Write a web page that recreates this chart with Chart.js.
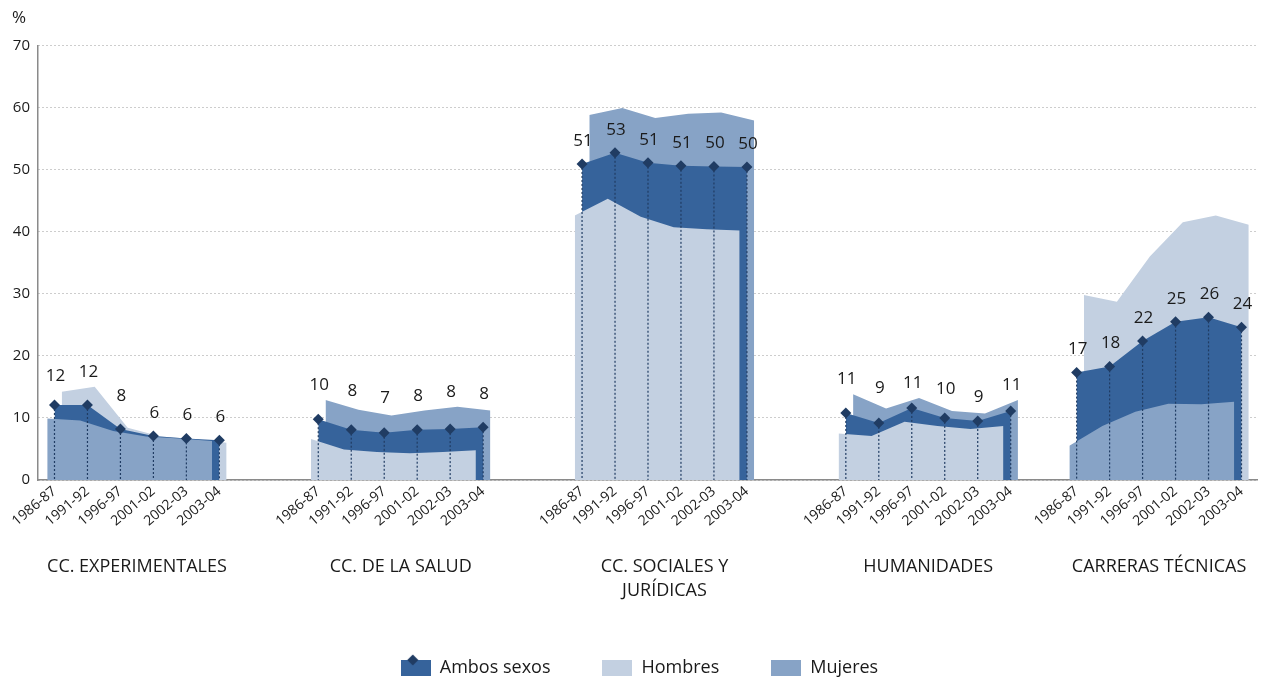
<!DOCTYPE html>
<html><head><meta charset="utf-8">
<script src="https://cdn.jsdelivr.net/npm/chart.js@4.4.1/dist/chart.umd.min.js"></script>
<style>html,body{margin:0;padding:0;background:#fff;}#wrap{width:1267px;height:679px;}</style>
</head><body><div id="wrap"><canvas id="c" width="1267" height="679" style="width:1267px;height:679px"></canvas></div>
<script>
// ---------------- DATA ----------------
const groups = ['CC. EXPERIMENTALES', 'CC. DE LA SALUD', ['CC. SOCIALES Y', 'JURÍDICAS'], 'HUMANIDADES', 'CARRERAS TÉCNICAS'];
const periods = ['1986-87', '1991-92', '1996-97', '2001-02', '2002-03', '2003-04'];
const ambos = [
  12.1, 12.1, 8.2, 7.1, 6.7, 6.4,
  9.8, 8.1, 7.6, 8.1, 8.2, 8.5,
  50.9, 52.7, 51.1, 50.6, 50.5, 50.4,
  10.8, 9.2, 11.6, 10.0, 9.5, 11.1,
  17.3, 18.3, 22.4, 25.5, 26.2, 24.6
];
const ambosLabels = [
  '12', '12', '8', '6', '6', '6',
  '10', '8', '7', '8', '8', '8',
  '51', '53', '51', '51', '50', '50',
  '11', '9', '11', '10', '9', '11',
  '17', '18', '22', '25', '26', '24'
];
const hombres = [
  14.2, 15.0, 8.4, 7.0, 6.6, 6.0,
  6.6, 4.9, 4.5, 4.3, 4.5, 4.8,
  42.6, 45.3, 42.4, 40.7, 40.4, 40.2,
  7.5, 7.1, 9.4, 8.7, 8.2, 8.7,
  29.8, 28.7, 36.0, 41.5, 42.6, 41.1
];
const mujeres = [
  9.9, 9.6, 7.9, 7.0, 6.7, 6.3,
  12.9, 11.3, 10.4, 11.2, 11.8, 11.2,
  58.8, 59.9, 58.3, 59.0, 59.2, 57.9,
  13.8, 11.5, 13.2, 11.1, 10.7, 12.9,
  5.5, 8.7, 11.0, 12.3, 12.2, 12.6
];
const legendNames = ['Ambos sexos', 'Hombres', 'Mujeres'];

// ---------------- LAYOUT / STYLE ----------------
const GROUP_SLOT = [0, 8, 16, 24, 31];
const SHIFT = 0.22;
const X_MIN = -0.5, X_MAX = 36.5;
const C_AMBOS = '#36639b', C_DIAMOND = '#203c63', C_H = '#c3d0e1', C_M = '#87a3c6';
const TXT = '#1a1a1a';
const FONT = "'Open Sans', 'DejaVu Sans', sans-serif";
Chart.defaults.font.family = FONT;
Chart.defaults.color = TXT;

const n = periods.length;
const sum = (arr, g) => arr.slice(g * n, g * n + n).reduce((a, b) => a + b, 0);
const isBack = (arr, other, g) => sum(arr, g) >= sum(other, g);

function buildPts(values, shiftOf) {
  const out = [];
  groups.forEach((_, g) => {
    const s = shiftOf(g);
    for (let k = 0; k < n; k++) {
      out.push({x: GROUP_SLOT[g] + k + (s === null ? 0 : s), y: s === null ? null : values[g * n + k]});
    }
    out.push({x: GROUP_SLOT[g] + n, y: null});
  });
  return out;
}
const hBack = buildPts(hombres, g => isBack(hombres, mujeres, g) ? SHIFT : null);
const hFront = buildPts(hombres, g => isBack(hombres, mujeres, g) ? null : -SHIFT);
const mBack = buildPts(mujeres, g => isBack(hombres, mujeres, g) ? null : SHIFT);
const mFront = buildPts(mujeres, g => isBack(hombres, mujeres, g) ? -SHIFT : null);
const ambosArea = buildPts(ambos, () => 0);
const ambosPts = [];
groups.forEach((_, g) => { for (let k = 0; k < n; k++) ambosPts.push({x: GROUP_SLOT[g] + k, y: ambos[g * n + k]}); });

const periodTicks = [];
groups.forEach((_, g) => { for (let k = 0; k < n; k++) periodTicks.push(GROUP_SLOT[g] + k); });
const groupTicks = GROUP_SLOT.map(s => s + (n - 1) / 2);

const area = (label, data, color, order) => ({
  label, data, order, fill: 'origin', backgroundColor: color, borderColor: 'rgba(0,0,0,0)',
  borderWidth: 0, pointRadius: 0, pointHoverRadius: 0, tension: 0, spanGaps: false
});

function legendIcon(fill, diamond) {
  const c = document.createElement('canvas'); c.width = 30; c.height = 28;
  const g = c.getContext('2d');
  g.fillStyle = fill; g.fillRect(0, 6, 30, 16);
  if (diamond) {
    g.fillStyle = C_DIAMOND; g.beginPath();
    g.moveTo(12, 0.5); g.lineTo(17.5, 6); g.lineTo(12, 11.5); g.lineTo(6.5, 6); g.closePath(); g.fill();
  }
  return c;
}
const icons = [legendIcon(C_AMBOS, true), legendIcon(C_H, false), legendIcon(C_M, false)];

const AREA_IDX = [0, 1, 3, 4];
const PTS_IDX = 5;
function areaTopAt(meta, px) {
  const pts = meta.data; let best = Infinity;
  for (let i = 0; i < pts.length - 1; i++) {
    const p = pts[i], q = pts[i + 1];
    if (p.skip || q.skip) continue;
    if (px >= p.x && px <= q.x) {
      const t = (px - p.x) / (q.x - p.x);
      best = Math.min(best, p.y + t * (q.y - p.y));
    }
  }
  return best;
}
const overlay = {
  id: 'overlay',
  beforeDatasetDraw(chart, args) {
    if (args.index !== PTS_IDX) return;
    const ctx = chart.ctx, y0 = chart.scales.y.getPixelForValue(0);
    ctx.save();
    ctx.strokeStyle = C_DIAMOND; ctx.lineWidth = 1.2; ctx.setLineDash([2, 2]);
    args.meta.data.forEach(p => { ctx.beginPath(); ctx.moveTo(p.x, p.y); ctx.lineTo(p.x, y0); ctx.stroke(); });
    ctx.restore();
  },
  afterDatasetsDraw(chart) {
    const ctx = chart.ctx;
    const metas = AREA_IDX.map(i => chart.getDatasetMeta(i));
    ctx.save();
    ctx.font = '17px ' + FONT; ctx.fillStyle = TXT; ctx.textAlign = 'center'; ctx.textBaseline = 'middle';
    chart.getDatasetMeta(PTS_IDX).data.forEach((p, j) => {
      const txt = ambosLabels[j];
      const hw = ctx.measureText(txt).width / 2 + 1;
      let top = Infinity;
      for (let px = p.x - hw; px <= p.x + hw + 0.01; px += 1) metas.forEach(m => { top = Math.min(top, areaTopAt(m, px)); });
      let y = p.y - 23;
      if (top > p.y - 40 && top - 15 < y) y = top - 15;
      ctx.fillText(txt, p.x + 1, y);
    });
    ctx.restore();
  }
};

new Chart(document.getElementById('c'), {
  type: 'line',
  data: {
    datasets: [
      area('Hombres', hBack, C_H, 3),
      area('Mujeres', mBack, C_M, 3),
      area('Ambos sexos', ambosArea, C_AMBOS, 2),
      area('Hombres', hFront, C_H, 1),
      area('Mujeres', mFront, C_M, 1),
      {label: 'Ambos sexos', data: ambosPts, order: 0, showLine: false, pointStyle: 'rectRot',
       pointRadius: 5.5, pointHoverRadius: 5.5, pointBackgroundColor: C_DIAMOND, pointBorderWidth: 0, borderWidth: 0}
    ]
  },
  options: {
    responsive: false, animation: false, events: [],
    layout: {padding: {left: 12, right: 0, top: 0, bottom: -8}},
    scales: {
      x: {
        type: 'linear', min: X_MIN, max: X_MAX, position: 'bottom', weight: 0,
        afterBuildTicks: s => { s.ticks = periodTicks.map(v => ({value: v})); },
        afterFit: s => { s.height = 55; },
        grid: {display: false, drawTicks: false},
        border: {display: true, color: '#8a8a8a', width: 1.5},
        ticks: {autoSkip: false, minRotation: 40, maxRotation: 40, padding: 3,
          font: {size: 14}, color: TXT, callback: (v, i) => periods[i % n]}
      },
      x2: {
        type: 'linear', min: X_MIN, max: X_MAX, position: 'bottom', weight: 1,
        afterBuildTicks: s => { s.ticks = groupTicks.map(v => ({value: v})); },
        afterFit: s => { s.height = 72; },
        grid: {display: false, drawTicks: false},
        border: {display: false},
        ticks: {autoSkip: false, maxRotation: 0, minRotation: 0, padding: 20,
          font: {size: 18, lineHeight: 1.33}, color: TXT, callback: (v, i) => groups[i]}
      },
      y: {
        min: 0, max: 70,
        afterFit: s => { s.width = 26; },
        ticks: {stepSize: 10, padding: 8, font: {size: 15}, color: TXT},
        grid: {color: '#9a9a9a', lineWidth: 1, drawTicks: false},
        border: {display: true, color: '#8a8a8a', width: 1.5, dash: [1, 3]}
      }
    },
    plugins: {
      tooltip: {enabled: false},
      title: {display: true, text: '%', align: 'start', color: TXT,
        font: {size: 17, weight: 'normal'}, padding: {top: 8, bottom: 17}},
      legend: {
        position: 'bottom',
        labels: {
          usePointStyle: true, pointStyleWidth: 30, padding: 52, color: TXT, font: {size: 18},
          generateLabels: () => legendNames.map((t, i) => ({
            text: t, pointStyle: icons[i], fillStyle: 'rgba(0,0,0,0)', strokeStyle: 'rgba(0,0,0,0)',
            lineWidth: 0, hidden: false, datasetIndex: i, fontColor: TXT
          }))
        }
      }
    }
  },
  plugins: [overlay]
});
</script></body></html>
